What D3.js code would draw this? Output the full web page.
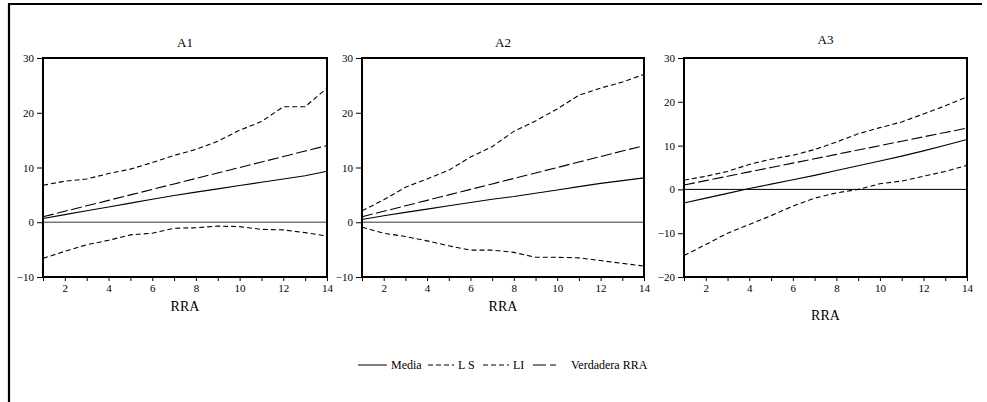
<!DOCTYPE html>
<html>
<head>
<meta charset="utf-8">
<script src="https://cdn.jsdelivr.net/npm/d3@7"></script>
<style>
  html, body { margin: 0; padding: 0; background: #fff; }
  svg { display: block; }
  svg text { font-family: "Liberation Serif", "Times New Roman", Times, serif; }
</style>
</head>
<body>
<svg id="chart" width="987" height="402"></svg>
<script>
// RRA horizon (1..14)
const rra = [1, 2, 3, 4, 5, 6, 7, 8, 9, 10, 11, 12, 13, 14];
const xTicks = [2, 4, 6, 8, 10, 12, 14];

// A1
const a1Media = [0.7, 1.4, 2.1, 2.8, 3.5, 4.2, 4.9, 5.5, 6.1, 6.7, 7.3, 7.9, 8.5, 9.3];
const a1LS = [6.75, 7.5, 7.9, 8.9, 9.7, 10.9, 12.2, 13.3, 14.8, 16.8, 18.4, 21.1, 21.1, 24.5];
const a1LI = [-6.6, -5.3, -4.1, -3.3, -2.3, -2.0, -1.1, -1.0, -0.7, -0.8, -1.3, -1.4, -1.9, -2.5];
// A2
const a2Media = [0.5, 1.2, 1.8, 2.4, 3.0, 3.6, 4.2, 4.7, 5.3, 5.9, 6.5, 7.1, 7.6, 8.1];
const a2LS = [2.1, 4.1, 6.4, 7.9, 9.5, 11.9, 13.8, 16.6, 18.5, 20.7, 23.2, 24.5, 25.6, 27.0];
const a2LI = [-0.9, -2.0, -2.6, -3.4, -4.3, -5.1, -5.1, -5.5, -6.4, -6.4, -6.5, -7.0, -7.5, -8.0];
// A3
const a3Media = [-3.1, -2.0, -0.9, 0.2, 1.2, 2.2, 3.2, 4.3, 5.4, 6.5, 7.6, 8.8, 10.1, 11.4];
const a3LS = [2.1, 3.0, 4.1, 5.7, 6.9, 7.8, 9.1, 10.8, 12.7, 14.1, 15.4, 17.2, 19.1, 21.1];
const a3LI = [-15.1, -12.6, -10.0, -8.0, -6.0, -3.8, -2.0, -0.8, 0.0, 1.3, 1.9, 3.0, 4.1, 5.5];
// True RRA, identical in every panel
const verdadera = [1, 2, 3, 4, 5, 6, 7, 8, 9, 10, 11, 12, 13, 14];

const legendLabels = ["Media", "L S", "LI", "Verdadera RRA"];

const FONT = "'Liberation Serif', 'Times New Roman', Times, serif";

const seriesStyle = [
  { dash: null },
  { dash: "5,3" },
  { dash: "5,3" },
  { dash: "11,3.5" }
];

const panels = [
  { title: "A1", series: [a1Media, a1LS, a1LI, verdadera], yDomain: [-10, 30], yTicks: [-10, 0, 10, 20, 30],
    left: 43, right: 327, titleY: 47, xlabY: 311, zeroColor: "#777", zeroWidth: 1.6 },
  { title: "A2", series: [a2Media, a2LS, a2LI, verdadera], yDomain: [-10, 30], yTicks: [-10, 0, 10, 20, 30],
    left: 362, right: 644, titleY: 47, xlabY: 311, zeroColor: "#777", zeroWidth: 1.6 },
  { title: "A3", series: [a3Media, a3LS, a3LI, verdadera], yDomain: [-20, 30], yTicks: [-20, -10, 0, 10, 20, 30],
    left: 684, right: 967, titleY: 44, xlabY: 320, zeroColor: "#000", zeroWidth: 1 }
];

const plotTop = 58, plotBottom = 277;
const svg = d3.select("#chart");

// outer frame (top and left edges)
svg.append("path")
  .attr("d", "M9,402 V4 H982")
  .attr("fill", "none").attr("stroke", "#000").attr("stroke-width", 2.2);

panels.forEach(p => {
  const x = d3.scaleLinear().domain([1, 14]).range([p.left, p.right]);
  const y = d3.scaleLinear().domain(p.yDomain).range([plotBottom, plotTop]);
  const g = svg.append("g");

  g.append("text")
    .attr("x", (p.left + p.right) / 2).attr("y", p.titleY)
    .attr("text-anchor", "middle").style("font-family", FONT).style("font-size", "13px").text(p.title);

  // y axis
  const yAxis = d3.axisLeft(y).tickValues(p.yTicks).tickSize(6).tickPadding(3).tickFormat(d3.format("d"));
  const ya = g.append("g").attr("transform", `translate(${p.left},0)`).call(yAxis)
    .attr("font-family", FONT).attr("font-size", 11);
  ya.select(".domain").remove();
  ya.selectAll("text").style("font-family", FONT).style("font-size", "11px");
  ya.selectAll("line").attr("stroke", "#000");

  // x axis: ticks at every integer, labels on even values
  const xAxis = d3.axisBottom(x).tickValues(rra).tickSize(4).tickPadding(3)
    .tickFormat(d => xTicks.includes(d) ? d : "");
  const xa = g.append("g").attr("transform", `translate(0,${plotBottom})`).call(xAxis)
    .attr("font-family", FONT).attr("font-size", 11);
  xa.select(".domain").remove();
  xa.selectAll("text").style("font-family", FONT).style("font-size", "11px");
  xa.selectAll("line").attr("stroke", "#000");

  g.append("text")
    .attr("x", (p.left + p.right) / 2).attr("y", p.xlabY)
    .attr("text-anchor", "middle").style("font-family", FONT).style("font-size", "14px").text("RRA");

  // zero reference line
  g.append("line")
    .attr("x1", p.left).attr("x2", p.right)
    .attr("y1", y(0)).attr("y2", y(0))
    .attr("stroke", p.zeroColor).attr("stroke-width", p.zeroWidth);

  const line = d3.line().x((d, i) => x(rra[i])).y(d => y(d));
  p.series.forEach((s, k) => {
    g.append("path")
      .datum(s)
      .attr("d", line)
      .attr("fill", "none")
      .attr("stroke", "#000")
      .attr("stroke-width", 1.1)
      .attr("stroke-dasharray", seriesStyle[k].dash);
  });

  // plot frame
  g.append("rect")
    .attr("x", p.left).attr("y", plotTop)
    .attr("width", p.right - p.left).attr("height", plotBottom - plotTop)
    .attr("fill", "none").attr("stroke", "#000").attr("stroke-width", 2);
});

// legend
const legendItems = [
  { x1: 358, x2: 387, tx: 391 },
  { x1: 428, x2: 454, tx: 458 },
  { x1: 483, x2: 509, tx: 513 },
  { x1: 533, x2: 560, tx: 571 }
];
const legendY = 365;
const lg = svg.append("g");
legendItems.forEach((it, k) => {
  lg.append("line")
    .attr("x1", it.x1).attr("x2", it.x2).attr("y1", legendY).attr("y2", legendY)
    .attr("stroke", "#000").attr("stroke-width", 1)
    .attr("stroke-dasharray", k === 3 ? "13,4,6" : seriesStyle[k].dash);
  lg.append("text")
    .attr("x", it.tx).attr("y", legendY + 4)
    .style("font-family", FONT).style("font-size", "12px").text(legendLabels[k]);
});
</script>
</body>
</html>
